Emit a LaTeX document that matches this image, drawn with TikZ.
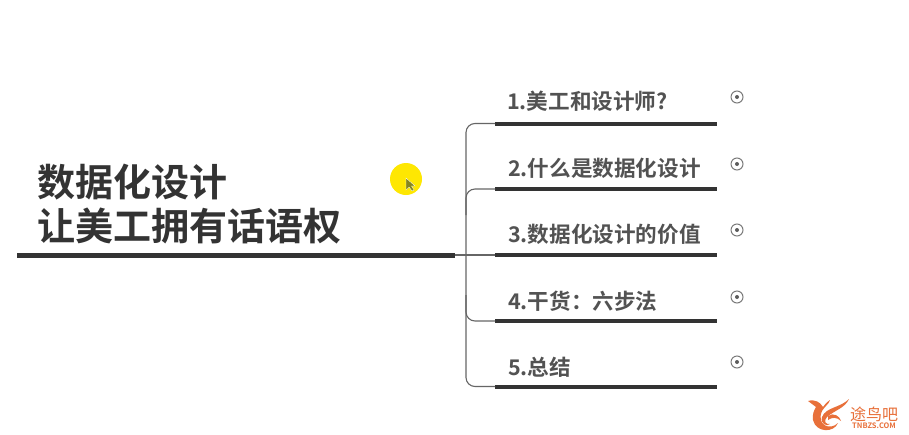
\documentclass[tikz,border=0pt]{standalone}
\usepackage{fontspec}
\setmainfont{Noto Sans CJK SC}
\newfontfamily\cjkb{Noto Sans CJK SC Bold}
\definecolor{ink}{HTML}{333333}
\definecolor{thin}{HTML}{666666}
\definecolor{logo}{HTML}{E8703A}
\tikzset{
 title/.style={anchor=west,inner sep=0pt,font=\cjkb\fontsize{38}{38}\selectfont,text=ink},
 item/.style={anchor=west,inner sep=0pt,font=\cjkb\fontsize{21.6}{21.6}\selectfont,text=ink!85},
 bar/.style={line width=4pt,draw=ink},
 branch/.style={line width=1.1pt,draw=thin,rounded corners=9pt},
 expander/.style={circle,draw=ink!65,line width=1pt,minimum size=12pt,inner sep=0pt},
 dot/.style={circle,fill=ink!80,minimum size=4pt,inner sep=0pt}
}
\begin{document}
\begin{tikzpicture}[x=1pt,y=-1pt]
\useasboundingbox (0,0) rectangle (909,434);
\fill[white] (0,0) rectangle (909,434);
% highlight + cursor
\node[circle,fill=yellow!90!orange,minimum size=32pt,inner sep=0pt] (spot) at (406,179) {};
\fill[ink!60!yellow,draw=white,line width=.3pt] (406,178) -- (406,190) -- (409,187) -- (412,191) -- (414,190) -- (411.5,186) -- (415,186) -- cycle;
% titles
\node[title] (t1) at (37,182) {数据化设计};
\node[title] (t2) at (37,226) {让美工拥有话语权};
% main bar
\coordinate (mainL) at (17,255);
\coordinate (mainR) at (455,255);
\draw[line width=5pt,draw=ink] (mainL) -- (mainR);
% item bars
\foreach \n/\y in {1/123.5,2/189,3/255,4/321,5/386.5}{
  \coordinate (b\n L) at (495,\y);
  \coordinate (b\n R) at (717,\y);
  \draw[bar] (b\n L) -- (b\n R);
}
% connectors
\coordinate (spineT) at (466,123.5);
\coordinate (spineB) at (466,386.5);
\draw[branch] (mainR) -- (b3L);
\draw[branch] (b1L) -- (spineT) -- (spineB) -- (b5L);
\draw[branch] (b2L) -- (466,189) -- (466,215);
\draw[branch] (b4L) -- (466,321) -- (466,295);
% labels
\node[item] (i1) at (507,101.5) {1.美工和设计师?};
\node[item] (i2) at (508,168.5) {2.什么是数据化设计};
\node[item] (i3) at (508,234.5) {3.数据化设计的价值};
\node[item] (i4) at (508,301.5) {4.干货：六步法};
\node[item] (i5) at (508,367.5) {5.总结};
% expanders
\foreach \n/\y in {1/97,2/164,3/230,4/297,5/362}{
  \node[expander] (e\n) at (737,\y) {};
  \node[dot] at (e\n) {};
}
% logo
\fill[logo] (808,401) .. controls (815,399) and (820,402) .. (823,407) .. controls (826,403) and (828,401) .. (830,400) .. controls (829,404) and (825,406) .. (822,411) .. controls (816,425) and (830,431) .. (838,423) .. controls (834,433) and (816,433) .. (813,420) .. controls (812,415) and (814,410) .. (816,407) .. controls (813,405) and (811,403) .. (808,401) -- cycle;
\fill[logo] (849,399) .. controls (845,408) and (835,410) .. (827,417) .. controls (823,421) and (826,425) .. (830,424) .. controls (827,427) and (820,424) .. (822,417) .. controls (826,407) and (840,408) .. (849,399) -- cycle;
\fill[logo] (828,416) .. controls (833,412) and (840,416) .. (841,421) .. controls (837,417) and (832,417) .. (828,420) -- cycle;
\node[anchor=center,inner sep=0pt,text=logo,font=\fontsize{16}{16}\selectfont] (lg1) at (874,414) {途鸟吧};
\node[anchor=center,inner sep=0pt,text=logo,font=\cjkb\fontsize{7.5}{7.5}\selectfont] (lg2) at (874,425.5) {TNBZS.COM};
\end{tikzpicture}
\end{document}
